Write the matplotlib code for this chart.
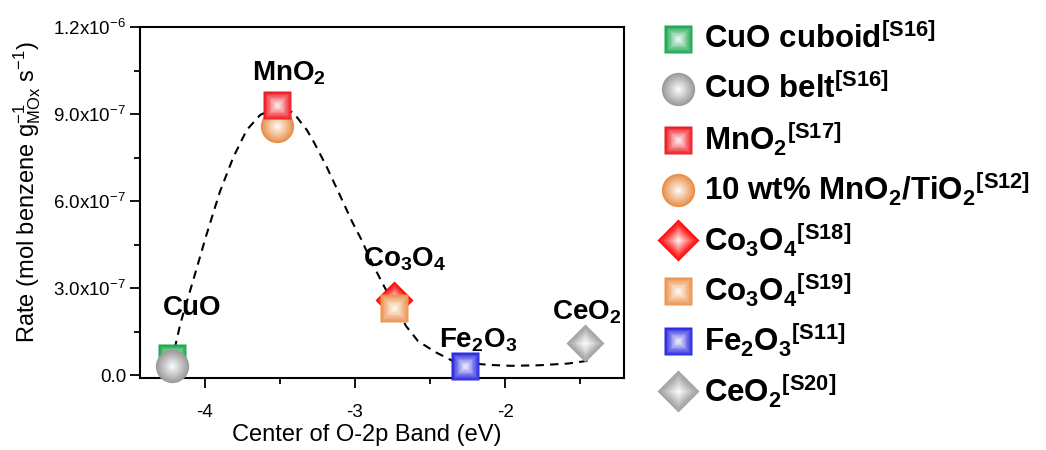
import matplotlib
matplotlib.use("Agg")
import matplotlib.pyplot as plt
from matplotlib.colors import to_rgb
from matplotlib.ticker import MultipleLocator, FuncFormatter

plt.rcParams['font.family'] = ['Liberation Sans', 'DejaVu Sans']
plt.rcParams['mathtext.fontset'] = 'custom'
plt.rcParams['mathtext.rm'] = 'Liberation Sans'
plt.rcParams['mathtext.bf'] = 'Liberation Sans:bold'
plt.rcParams['mathtext.default'] = 'regular'

# catalysts: O-2p band centre (eV) and benzene oxidation rate
names = [r"CuO cuboid$^{[S16]}$", r"CuO belt$^{[S16]}$", r"MnO$_2$$^{[S17]}$",
         r"10 wt% MnO$_2$/TiO$_2$$^{[S12]}$", r"Co$_3$O$_4$$^{[S18]}$",
         r"Co$_3$O$_4$$^{[S19]}$", r"Fe$_2$O$_3$$^{[S11]}$", r"CeO$_2$$^{[S20]}$"]
band_center = [-4.22, -4.22, -3.52, -3.52, -2.74, -2.74, -2.27, -1.47]
rate = [6.0e-8, 3.0e-8, 9.3e-7, 8.6e-7, 2.6e-7, 2.3e-7, 3.0e-8, 1.1e-7]
colors = ["#1fa84f", "#9c9c9c", "#ee1c24", "#e8904a", "#ff0a0a", "#ee9450", "#2a2ae0", "#a2a2a2"]
markers = ["s", "o", "s", "o", "D", "s", "s", "D"]

# dashed guide curve (rate in 1e-6 units)
curve_x = [-4.20, -4.16, -4.08, -3.99, -3.90, -3.81, -3.72, -3.63, -3.54, -3.48, -3.41,
           -3.32, -3.27, -3.19, -3.10, -3.02, -2.96, -2.88, -2.80, -2.72, -2.66, -2.58,
           -2.46, -2.35, -2.22, -2.10, -1.96, -1.77, -1.58, -1.44]
curve_y = [0.09, 0.18, 0.32, 0.48, 0.63, 0.75, 0.845, 0.897, 0.918, 0.92, 0.905,
           0.845, 0.80, 0.72, 0.62, 0.53, 0.47, 0.38, 0.30, 0.23, 0.169, 0.117,
           0.078, 0.049, 0.040, 0.035, 0.032, 0.034, 0.040, 0.050]

# point labels
label_text = ["CuO", r"MnO$_2$", r"Co$_3$O$_4$", r"Fe$_2$O$_3$", r"CeO$_2$"]


def shade(color, frac):
    r, g, b = to_rgb(color)
    return (r + (1 - r) * frac, g + (1 - g) * frac, b + (1 - b) * frac)


def gradient_marker(ax, x, y, marker, ms, color, z):
    # fake the radial glow with stacked markers fading to white
    steps = 10
    for k in range(steps):
        f = k / (steps - 1)
        ax.plot([x], [y], marker=marker, ms=ms * (1 - 0.9 * f), color=shade(color, 0.92 * f),
                mec="none", ls="none", zorder=z + k * 0.01, clip_on=False)


fig = plt.figure(figsize=(10.46, 4.5), dpi=100)
ax = fig.add_axes([140 / 1046, 0.16, 484 / 1046, 0.78])

ax.plot(curve_x, [v * 1e-6 for v in curve_y], color="black", ls=(0, (4, 3)), lw=1.5, zorder=2)

sizes = {"s": 20, "o": 24, "D": 19.5}
order_z = [3, 4, 6, 5, 3, 4, 3, 3]
for i in range(len(names)):
    gradient_marker(ax, band_center[i], rate[i], markers[i], sizes[markers[i]], colors[i], order_z[i])

label_pos = [(-4.08, 2.3e-7), (-3.44, 1.04e-6), (-2.67, 4.0e-7), (-2.18, 1.2e-7), (-1.46, 2.15e-7)]
for txt, (lx, ly) in zip(label_text, label_pos):
    ax.text(lx, ly, txt, fontsize=20, fontweight="bold", ha="center", va="center", zorder=8)

ax.set_xlim(-4.43, -1.21)
ax.set_ylim(-1e-8, 1.2e-6)
ax.xaxis.set_major_locator(MultipleLocator(1))
ax.xaxis.set_minor_locator(MultipleLocator(0.5))
ax.yaxis.set_major_locator(MultipleLocator(3e-7))
ax.yaxis.set_minor_locator(MultipleLocator(1.5e-7))


def yfmt(v, pos):
    if abs(v) < 1e-12:
        return "0.0"
    exp = int(f"{v:.1e}".split("e")[1])
    mant = v / 10 ** exp
    return rf"{mant:.1f}x10$^{{{exp}}}$"


ax.yaxis.set_major_formatter(FuncFormatter(yfmt))
ax.xaxis.set_major_formatter(FuncFormatter(lambda v, p: f"{v:.0f}"))
ax.tick_params(axis="both", which="major", direction="out", length=7, width=1.3, labelsize=13.5)
ax.tick_params(axis="x", which="major", pad=12)
ax.tick_params(axis="y", which="major", pad=3)
ax.tick_params(axis="both", which="minor", direction="out", length=4, width=1.3)
ax.tick_params(top=False, right=False)
for s in ax.spines.values():
    s.set_linewidth(1.5)

ax.set_xlabel("Center of O-2p Band (eV)", fontsize=17)
ax.set_ylabel(r"Rate (mol benzene g$^{-1}_{MOx}$ s$^{-1}$)", fontsize=17)
ax.xaxis.set_label_coords(0.469, -0.13)
ax.yaxis.set_label_coords(-0.2, 0.53)

# hand-built legend on the right
lax = fig.add_axes([0, 0, 1, 1], frameon=False)
lax.set_xlim(0, 1046)
lax.set_ylim(450, 0)
lax.set_axis_off()
row_y = 39
for i in range(len(names)):
    gradient_marker(lax, 678, row_y, markers[i], sizes[markers[i]] + (1.5 if markers[i] == "D" else 0),
                    colors[i], 3)
    lax.text(704, row_y, names[i], fontsize=22.5, fontweight="bold", ha="left", va="center")
    row_y += 50.3

fig.savefig("out.png", dpi=100)
